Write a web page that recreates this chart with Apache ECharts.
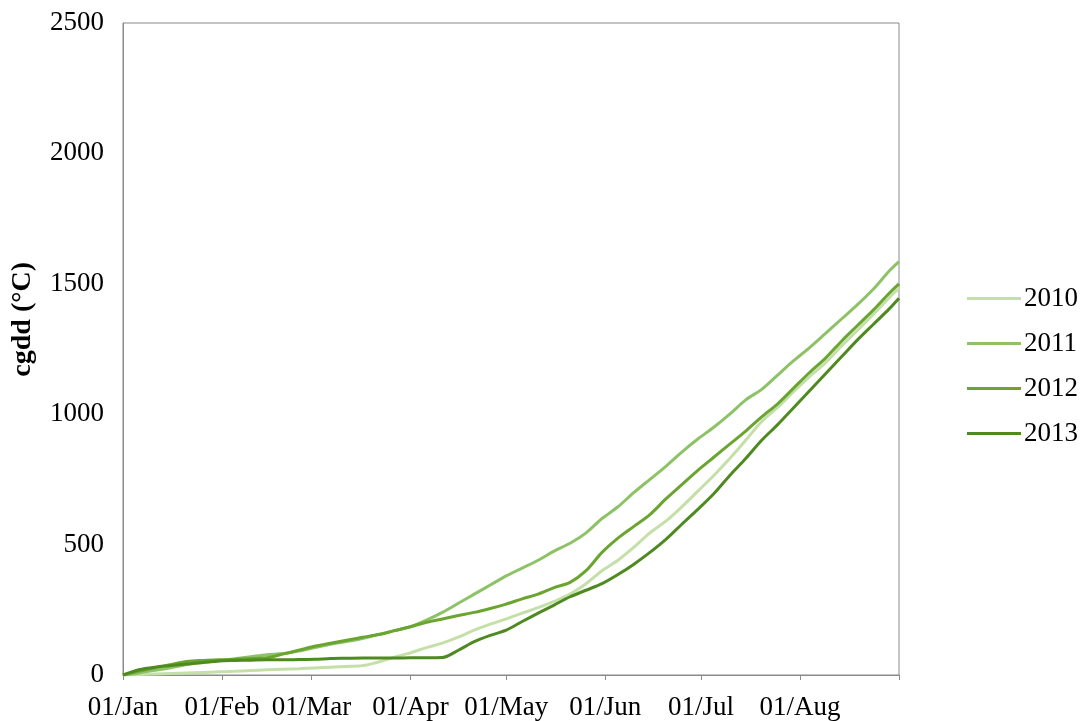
<!DOCTYPE html>
<html>
<head>
<meta charset="utf-8">
<script src="https://cdn.jsdelivr.net/npm/echarts@6/dist/echarts.min.js"></script>
<style>
  html, body { margin: 0; padding: 0; background: #ffffff; }
  #chart { width: 1084px; height: 721px; }
</style>
</head>
<body>
<div id="chart"></div>
<script>
// Day of year (0 = 1 January) at which each cumulative value is sampled
const days = [0, 5, 10, 15, 20, 25, 30, 35, 40, 45, 50, 55, 60, 65, 70, 75, 80, 85, 90, 95,
  100, 105, 110, 115, 120, 125, 130, 135, 140, 145, 150, 155, 160, 165, 170, 175, 180, 185, 190, 195,
  200, 205, 210, 215, 220, 225, 230, 235, 240, 243];

// Cumulative growing degree days (°C) per season
const gdd2010 = [0, 2, 4, 6, 8, 10, 12, 14, 17, 20, 22, 24, 27, 30, 33, 36, 50, 68, 85, 105,
  122, 145, 172, 195, 215, 237, 258, 282, 310, 350, 400, 440, 490, 545, 590, 645, 705, 765, 830, 900,
  972, 1026, 1086, 1144, 1198, 1262, 1322, 1383, 1448, 1482];
const gdd2011 = [0, 8, 18, 28, 40, 48, 55, 62, 70, 78, 82, 92, 105, 118, 128, 140, 155, 170, 185, 210,
  240, 275, 310, 345, 380, 410, 440, 475, 505, 545, 600, 645, 700, 750, 800, 855, 905, 950, 1000, 1055,
  1095, 1150, 1205, 1255, 1310, 1365, 1420, 1480, 1550, 1585];
const gdd2012 = [0, 15, 28, 40, 52, 56, 58, 60, 63, 66, 80, 95, 110, 122, 133, 145, 155, 170, 185, 202,
  215, 228, 240, 255, 272, 292, 310, 335, 355, 400, 470, 525, 570, 615, 675, 730, 785, 835, 885, 935,
  990, 1040, 1100, 1160, 1215, 1280, 1340, 1400, 1465, 1500];
const gdd2013 = [0, 20, 30, 36, 42, 48, 54, 56, 57, 58, 58, 59, 60, 63, 64, 65, 65, 65, 66, 66,
  67, 95, 128, 152, 172, 205, 237, 268, 300, 325, 350, 385, 425, 470, 520, 578, 635, 695, 765, 830,
  900, 960, 1025, 1090, 1155, 1220, 1285, 1345, 1405, 1445];

const seasonNames = ['2010', '2011', '2012', '2013'];
const seasonValues = [gdd2010, gdd2011, gdd2012, gdd2013];
const seasonColors = ['#c4e0a8', '#8dc266', '#6aa530', '#4e8a20'];

// Month boundaries (day of year) and their labels
const monthStarts = [0, 31, 59, 90, 120, 151, 181, 212, 243];
const monthLabels = ['01/Jan', '01/Feb', '01/Mar', '01/Apr', '01/May', '01/Jun', '01/Jul', '01/Aug'];

const yTicks = [0, 500, 1000, 1500, 2000, 2500];

const FONT = '"Liberation Serif", "DejaVu Serif", serif';

const chart = echarts.init(document.getElementById('chart'), null, { renderer: 'canvas' });

chart.setOption({
  backgroundColor: '#ffffff',
  animation: false,
  grid: {
    left: 123, right: 185, top: 23, bottom: 44,
    show: true, borderColor: '#8a8a8a', borderWidth: 1, backgroundColor: 'transparent'
  },
  xAxis: {
    type: 'value',
    min: 0,
    max: 243,
    axisLine: { show: true, lineStyle: { color: '#8a8a8a', width: 1 } },
    splitLine: { show: false },
    axisTick: {
      show: true, inside: false, length: 5,
      lineStyle: { color: '#8a8a8a' },
      customValues: monthStarts
    },
    axisLabel: {
      customValues: monthStarts.slice(0, monthLabels.length),
      formatter: (v) => monthLabels[monthStarts.indexOf(v)] || '',
      color: '#000000',
      fontFamily: FONT,
      fontSize: 27,
      margin: 19
    }
  },
  yAxis: {
    type: 'value',
    min: yTicks[0],
    max: yTicks[yTicks.length - 1],
    interval: 500,
    axisLine: { show: true, lineStyle: { color: '#8a8a8a', width: 1 } },
    axisTick: { show: false },
    splitLine: { show: false },
    axisLabel: {
      formatter: (v) => String(v),
      color: '#000000',
      fontFamily: FONT,
      fontSize: 27,
      margin: 19
    }
  },
  legend: {
    orient: 'vertical',
    left: 962,
    top: 280,
    itemWidth: 54,
    itemHeight: 3,
    itemGap: 18,
    icon: 'rect',
    textStyle: { fontFamily: FONT, fontSize: 27, color: '#000000', lineHeight: 27, padding: [0, 0, 0, -2] },
    data: seasonNames
  },
  graphic: [{
    type: 'text',
    left: 9,
    top: 262,
    rotation: Math.PI / 2,
    style: {
      text: 'cgdd (°C)',
      font: 'bold 28px "Liberation Serif", serif',
      fill: '#000000'
    }
  }],
  series: seasonNames.map((name, i) => ({
    name: name,
    type: 'line',
    data: days.map((d, j) => [d, seasonValues[i][j]]),
    showSymbol: false,
    symbol: 'none',
    smooth: 0.3,
    lineStyle: { color: seasonColors[i], width: 3 },
    itemStyle: { color: seasonColors[i] },
    z: 2 + i
  }))
});
</script>
</body>
</html>
